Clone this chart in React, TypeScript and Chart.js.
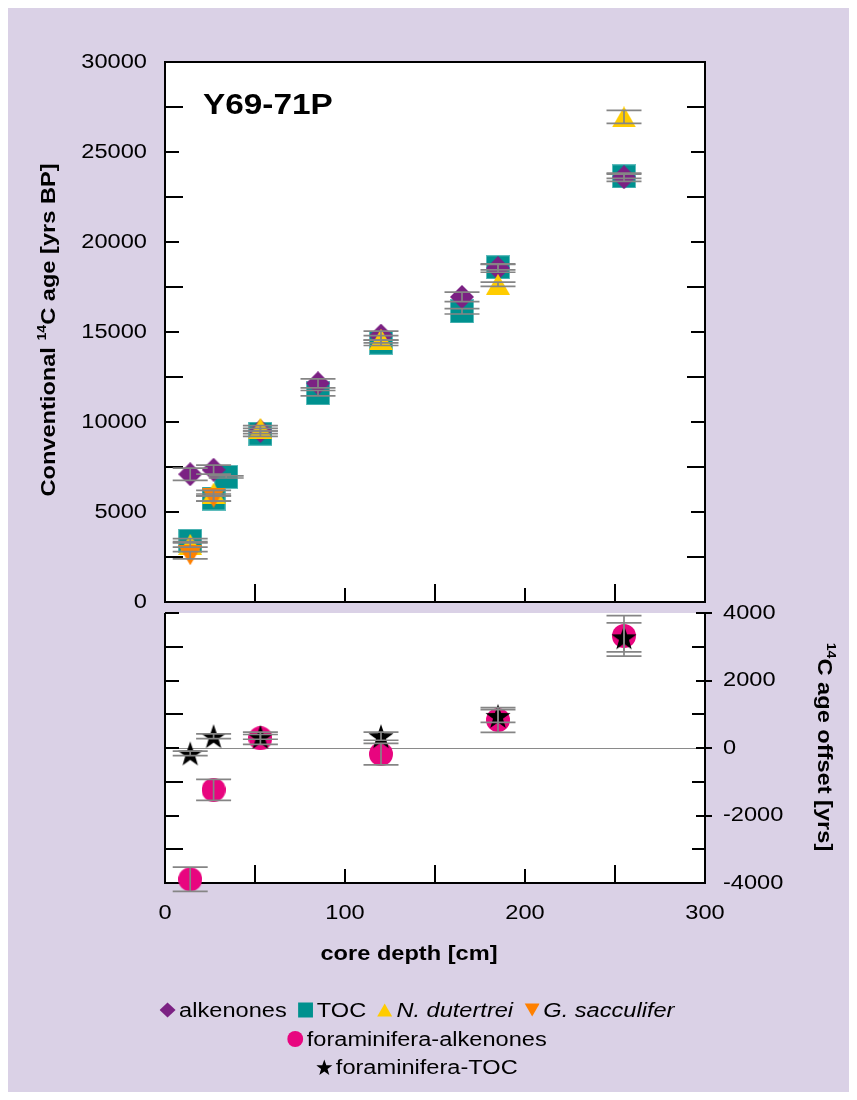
import React, { useEffect, useRef } from "react";
import { Chart, registerables } from "chart.js";
Chart.register(...registerables);

// ---------------- data ----------------
const coreName = "Y69-71P";

const labelAlkenones = "alkenones";
const depthAlkenones = [14, 27, 53, 85, 120, 165, 185, 255];
const ageAlkenones = [7100, 7350, 9500, 12150, 14800, 16950, 18550, 23600];
const errAlkenones = [340, 250, 150, 250, 250, 260, 230, 230];

const labelTOC = "TOC";
const depthTOC = [14, 27, 34, 53, 85, 120, 165, 185, 255];
const ageTOC = [3400, 5750, 6950, 9350, 11600, 14400, 16150, 18600, 23650];
const errTOC = [120, 150, 60, 150, 150, 150, 150, 150, 120];

const labelNdut = "N. dutertrei";
const depthNdut = [14, 27, 53, 120, 185, 255];
const ageNdut = [3200, 6050, 9650, 14600, 17650, 26950];
const errNdut = [150, 150, 150, 200, 120, 360];

const labelGsac = "G. sacculifer";
const depthGsac = [14, 27];
const ageGsac = [2600, 5800];
const errGsac = [200, 200];

const labelForaAlk = "foraminifera-alkenones";
const labelForaTOC = "foraminifera-TOC";
const depthOffset = [14, 27, 53, 120, 185, 255];
const offsetForaAlk = [-3890, -1240, 290, -180, 830, 3320];
const errForaAlk = [360, 310, 180, 320, 365, 600];
const offsetForaTOC = [-160, 350, 330, 350, 950, 3280];
const errForaTOC = [65, 70, 70, 120, 190, 430];

const xTickLabels = [0, 100, 200, 300];
const xTickMarks = [50, 100, 150, 200, 250];
const ageTickLabels = [0, 5000, 10000, 15000, 20000, 25000, 30000];
const ageTickMarks = [2500, 5000, 7500, 10000, 12500, 15000, 17500, 20000, 22500, 25000, 27500];
const offsetTickLabels = [4000, 2000, 0, -2000, -4000];
const offsetTickMarks = [-3000, -2000, -1000, 0, 1000, 2000, 3000, 4000];

const xTitle = "core depth [cm]";
const ageTitleRuns = [
  { t: "Conventional " },
  { t: "14", sup: true },
  { t: "C age [yrs BP]" },
];
const offsetTitleRuns = [
  { t: "14", sup: true },
  { t: "C age offset [yrs]" },
];

// ---------------- style ----------------
const W = 841;
const H = 1000;
const SX = 1.18;
const FONT = '"Liberation Sans", Arial, Helvetica, sans-serif';
const BG = "#dad1e6";
const PURPLE = "#7b2183";
const TEAL = "#00918f";
const YELLOW = "#ffcc00";
const ORANGE = "#ff8000";
const PINK = "#e8057f";
const ERR = "#858585";

type Run = { t: string; sup?: boolean; italic?: boolean };

function drawRuns(
  ctx: CanvasRenderingContext2D,
  runs: Run[],
  x: number,
  y: number,
  o: { size: number; bold?: boolean; rot?: number; align?: "left" | "center" | "right"; sx?: number }
) {
  const sx = o.sx ?? SX;
  ctx.save();
  ctx.translate(x, y);
  ctx.rotate(o.rot || 0);
  ctx.scale(sx, 1);
  ctx.textBaseline = "middle";
  ctx.textAlign = "left";
  ctx.fillStyle = "#000";
  const fontFor = (r: Run) =>
    `${r.italic ? "italic " : ""}${o.bold ? "bold " : ""}${r.sup ? Math.round(o.size * 0.6) : o.size}px ${FONT}`;
  let total = 0;
  const widths = runs.map((r) => {
    ctx.font = fontFor(r);
    const w = ctx.measureText(r.t).width;
    total += w;
    return w;
  });
  const align = o.align || "left";
  let cx = align === "left" ? 0 : align === "center" ? -total / 2 : -total;
  runs.forEach((r, i) => {
    ctx.font = fontFor(r);
    ctx.fillText(r.t, cx, r.sup ? -o.size * 0.3 : 0);
    cx += widths[i];
  });
  ctx.restore();
}

function mk(w: number, h: number, draw: (c: CanvasRenderingContext2D, w: number, h: number) => void) {
  const c = document.createElement("canvas");
  c.width = w;
  c.height = h;
  const ctx = c.getContext("2d")!;
  draw(ctx, w, h);
  return c;
}

function makeMarkers() {
  const diamond = mk(24, 24, (c, w, h) => {
    c.fillStyle = PURPLE;
    c.beginPath();
    c.moveTo(w / 2, 0);
    c.lineTo(w, h / 2);
    c.lineTo(w / 2, h);
    c.lineTo(0, h / 2);
    c.closePath();
    c.fill();
  });
  const square = mk(24, 24, (c, w, h) => {
    c.fillStyle = TEAL;
    c.fillRect(0, 0, w, h);
    c.strokeStyle = "#5fbcbc";
    c.lineWidth = 1;
    c.strokeRect(0.5, 0.5, w - 1, h - 1);
  });
  const up = mk(24, 21, (c, w, h) => {
    c.fillStyle = YELLOW;
    c.beginPath();
    c.moveTo(w / 2, 0);
    c.lineTo(w, h);
    c.lineTo(0, h);
    c.closePath();
    c.fill();
  });
  const down = mk(24, 20, (c, w, h) => {
    c.fillStyle = ORANGE;
    c.beginPath();
    c.moveTo(0, 0);
    c.lineTo(w, 0);
    c.lineTo(w / 2, h);
    c.closePath();
    c.fill();
  });
  const circle = mk(24, 24, (c, w, h) => {
    c.fillStyle = PINK;
    c.beginPath();
    c.arc(w / 2, h / 2, 12, 0, Math.PI * 2);
    c.fill();
  });
  const star = mk(26, 26, (c, w, h) => {
    const R = 13.2;
    const r = 5.2;
    const cx = w / 2;
    const cy = (h - R * 1.809) / 2 + R;
    c.fillStyle = "#000";
    c.beginPath();
    for (let i = 0; i < 10; i++) {
      const rad = (i * Math.PI) / 5;
      const rr = i % 2 === 0 ? R : r;
      const px = cx + rr * Math.sin(rad);
      const py = cy - rr * Math.cos(rad);
      if (i === 0) c.moveTo(px, py);
      else c.lineTo(px, py);
    }
    c.closePath();
    c.fill();
  });
  return { diamond, square, up, down, circle, star };
}

function pts(xs: number[], ys: number[]) {
  return xs.map((x, i) => ({ x, y: ys[i] }));
}

function errorBarPlugin(errs: number[][]) {
  return {
    id: "errbars",
    afterDatasetsDraw(chart: any) {
      const { ctx, scales } = chart;
      const xs = scales.x;
      const ys = scales.y;
      ctx.save();
      ctx.strokeStyle = ERR;
      ctx.lineWidth = 1.7;
      chart.data.datasets.forEach((ds: any, i: number) => {
        const e = errs[i];
        ds.data.forEach((p: any, j: number) => {
          const px = xs.getPixelForValue(p.x);
          const y0 = ys.getPixelForValue(p.y - e[j]);
          const y1 = ys.getPixelForValue(p.y + e[j]);
          ctx.beginPath();
          ctx.moveTo(px, y0);
          ctx.lineTo(px, y1);
          ctx.moveTo(px - 17.5, y0);
          ctx.lineTo(px + 17.5, y0);
          ctx.moveTo(px - 17.5, y1);
          ctx.lineTo(px + 17.5, y1);
          ctx.stroke();
        });
      });
      ctx.restore();
    },
  };
}

function line(ctx: CanvasRenderingContext2D, x0: number, y0: number, x1: number, y1: number) {
  ctx.beginPath();
  ctx.moveTo(x0, y0);
  ctx.lineTo(x1, y1);
  ctx.stroke();
}

const topFramePlugin = {
  id: "topframe",
  beforeDatasetsDraw(chart: any) {
    const { ctx, chartArea: a, scales } = chart;
    ctx.save();
    ctx.fillStyle = "#fff";
    ctx.fillRect(a.left, a.top, a.right - a.left, a.bottom - a.top);
    ctx.strokeStyle = "#000";
    ctx.lineWidth = 2;
    ctx.strokeRect(a.left, a.top, a.right - a.left, a.bottom - a.top);
    ageTickMarks.forEach((v) => {
      const py = Math.round(scales.y.getPixelForValue(v));
      const len = v % 5000 === 0 ? 14 : 18;
      line(ctx, a.left, py, a.left + len, py);
      line(ctx, a.right - len, py, a.right, py);
    });
    xTickMarks.forEach((v) => {
      const px = Math.round(scales.x.getPixelForValue(v));
      const len = v % 100 === 0 ? 14 : 18;
      line(ctx, px, a.bottom, px, a.bottom - len);
    });
    ctx.restore();
  },
  afterDraw(chart: any) {
    const { ctx, chartArea: a, scales } = chart;
    ageTickLabels.forEach((v) => {
      drawRuns(ctx, [{ t: String(v) }], a.left - 18, scales.y.getPixelForValue(v), {
        size: 20,
        align: "right",
      });
    });
    drawRuns(ctx, ageTitleRuns, 41, 322, { size: 20, bold: true, rot: -Math.PI / 2, align: "center" });
    drawRuns(ctx, [{ t: coreName }], a.left + 38, 98, { size: 29, bold: true, align: "left", sx: 1.15 });
  },
};

const botFramePlugin = {
  id: "botframe",
  beforeDatasetsDraw(chart: any) {
    const { ctx, chartArea: a, scales } = chart;
    ctx.save();
    ctx.fillStyle = "#fff";
    ctx.fillRect(a.left, a.top, a.right - a.left, a.bottom - a.top);
    // zero line
    const z = Math.round(scales.y.getPixelForValue(0)) + 0.5;
    ctx.strokeStyle = "#8a8a8a";
    ctx.lineWidth = 1;
    line(ctx, a.left, z, a.right, z);
    ctx.strokeStyle = "#000";
    ctx.lineWidth = 2;
    ctx.beginPath();
    ctx.moveTo(a.left, a.top);
    ctx.lineTo(a.left, a.bottom);
    ctx.lineTo(a.right, a.bottom);
    ctx.lineTo(a.right, a.top);
    ctx.stroke();
    offsetTickMarks.forEach((v) => {
      const py = Math.round(scales.y.getPixelForValue(v));
      const even = v % 2000 === 0;
      line(ctx, a.left, py, a.left + (even ? 14 : 18), py);
      if (even) line(ctx, a.right - 9, py, a.right + 7, py);
      else line(ctx, a.right - 13, py, a.right, py);
    });
    xTickMarks.forEach((v) => {
      const px = Math.round(scales.x.getPixelForValue(v));
      const len = v % 100 === 0 ? 14 : 18;
      line(ctx, px, a.bottom, px, a.bottom - len);
    });
    ctx.restore();
  },
  afterDraw(chart: any) {
    const { ctx, chartArea: a, scales } = chart;
    xTickLabels.forEach((v) => {
      drawRuns(ctx, [{ t: String(v) }], scales.x.getPixelForValue(v), a.bottom + 30, {
        size: 20,
        align: "center",
      });
    });
    offsetTickLabels.forEach((v) => {
      drawRuns(ctx, [{ t: String(v) }], a.right + 18, scales.y.getPixelForValue(v), {
        size: 20,
        align: "left",
      });
    });
    drawRuns(ctx, [{ t: xTitle }], (a.left + a.right) / 2 - 26, a.bottom + 71, {
      size: 20,
      bold: true,
      align: "center",
    });
    drawRuns(ctx, offsetTitleRuns, 816, 739, { size: 20, bold: true, rot: Math.PI / 2, align: "center" });
  },
};

function baseOptions(padding: any, yMin: number, yMax: number) {
  return {
    responsive: false,
    animation: false as const,
    devicePixelRatio: 1,
    events: [] as any[],
    layout: { padding },
    plugins: { legend: { display: false }, tooltip: { enabled: false }, title: { display: false } },
    scales: {
      x: { type: "linear" as const, min: 0, max: 300, display: false },
      y: { type: "linear" as const, min: yMin, max: yMax, display: false },
    },
  };
}

function Sym({ kind, color }: { kind: string; color: string }) {
  const vw = 16;
  const vh = 16;
  const style: React.CSSProperties = { width: vw / SX, height: vh, display: "block", flex: "none" };
  let shape: React.ReactNode = null;
  if (kind === "diamond") shape = <polygon points="8,0.5 16,8 8,15.5 0,8" fill={color} />;
  if (kind === "square") shape = <rect x="0.5" y="0.5" width="15" height="15" fill={color} />;
  if (kind === "up") shape = <polygon points="8,1.5 15.5,14.5 0.5,14.5" fill={color} />;
  if (kind === "down") shape = <polygon points="0.5,1.5 15.5,1.5 8,14.5" fill={color} />;
  if (kind === "circle") shape = <circle cx="8" cy="8" r="8" fill={color} />;
  if (kind === "star") {
    const p: string[] = [];
    for (let i = 0; i < 10; i++) {
      const rad = (i * Math.PI) / 5;
      const rr = i % 2 === 0 ? 8.5 : 3.4;
      p.push(`${(8 + rr * Math.sin(rad)).toFixed(2)},${(9 - rr * Math.cos(rad)).toFixed(2)}`);
    }
    shape = <polygon points={p.join(" ")} fill={color} />;
  }
  return (
    <svg viewBox={`0 0 ${vw} ${vh}`} preserveAspectRatio="none" style={style}>
      {shape}
    </svg>
  );
}

const legendRows = [
  [
    { kind: "diamond", color: PURPLE, label: labelAlkenones, italic: false },
    { kind: "square", color: TEAL, label: labelTOC, italic: false },
    { kind: "up", color: YELLOW, label: labelNdut, italic: true },
    { kind: "down", color: ORANGE, label: labelGsac, italic: true },
  ],
  [{ kind: "circle", color: PINK, label: labelForaAlk, italic: false }],
  [{ kind: "star", color: "#000", label: labelForaTOC, italic: false }],
];
const legendRowY = [1002, 1031, 1059];

export default function App() {
  const topRef = useRef<HTMLCanvasElement>(null);
  const botRef = useRef<HTMLCanvasElement>(null);

  useEffect(() => {
    const m = makeMarkers();
    const topChart = new Chart(topRef.current!, {
      type: "scatter",
      data: {
        datasets: [
          { label: labelTOC, data: pts(depthTOC, ageTOC), pointStyle: m.square as any, pointRadius: 12, order: 3, clip: false as any },
          { label: labelAlkenones, data: pts(depthAlkenones, ageAlkenones), pointStyle: m.diamond as any, pointRadius: 12, order: 2, clip: false as any },
          { label: labelNdut, data: pts(depthNdut, ageNdut), pointStyle: m.up as any, pointRadius: 12, order: 1, clip: false as any },
          { label: labelGsac, data: pts(depthGsac, ageGsac), pointStyle: m.down as any, pointRadius: 12, order: 0, clip: false as any },
        ],
      },
      options: baseOptions({ left: 157, right: W - 697, top: 54, bottom: H - 594 }, 0, 30000) as any,
      plugins: [topFramePlugin, errorBarPlugin([errTOC, errAlkenones, errNdut, errGsac])],
    });
    const botChart = new Chart(botRef.current!, {
      type: "scatter",
      data: {
        datasets: [
          { label: labelForaAlk, data: pts(depthOffset, offsetForaAlk), pointStyle: m.circle as any, pointRadius: 12, order: 1, clip: false as any },
          { label: labelForaTOC, data: pts(depthOffset, offsetForaTOC), pointStyle: m.star as any, pointRadius: 12, order: 0, clip: false as any },
        ],
      },
      options: baseOptions({ left: 157, right: W - 697, top: 605, bottom: H - 875 }, -4000, 4000) as any,
      plugins: [botFramePlugin, errorBarPlugin([errForaAlk, errForaTOC])],
    });
    return () => {
      topChart.destroy();
      botChart.destroy();
    };
  }, []);

  return (
    <div style={{ position: "relative", width: W, height: 1084, background: BG, overflow: "hidden" }}>
      <canvas ref={topRef} width={W} height={H} style={{ position: "absolute", left: 0, top: 0, width: W, height: H }} />
      <canvas ref={botRef} width={W} height={H} style={{ position: "absolute", left: 0, top: 0, width: W, height: H }} />
      {legendRows.map((row, ri) => (
        <div
          key={ri}
          style={{
            position: "absolute",
            left: 409,
            top: legendRowY[ri],
            transform: `translate(-50%, -50%) scaleX(${SX})`,
            display: "flex",
            alignItems: "center",
            whiteSpace: "nowrap",
            fontFamily: FONT,
            fontSize: 20,
            lineHeight: "24px",
            color: "#000",
          }}
        >
          {row.map((it, k) => (
            <React.Fragment key={k}>
              <span style={{ marginLeft: k === 0 ? 0 : 9 }} />
              <Sym kind={it.kind} color={it.color} />
              <span style={{ marginLeft: 3, fontStyle: it.italic ? "italic" : "normal" }}>{it.label}</span>
            </React.Fragment>
          ))}
        </div>
      ))}
    </div>
  );
}
